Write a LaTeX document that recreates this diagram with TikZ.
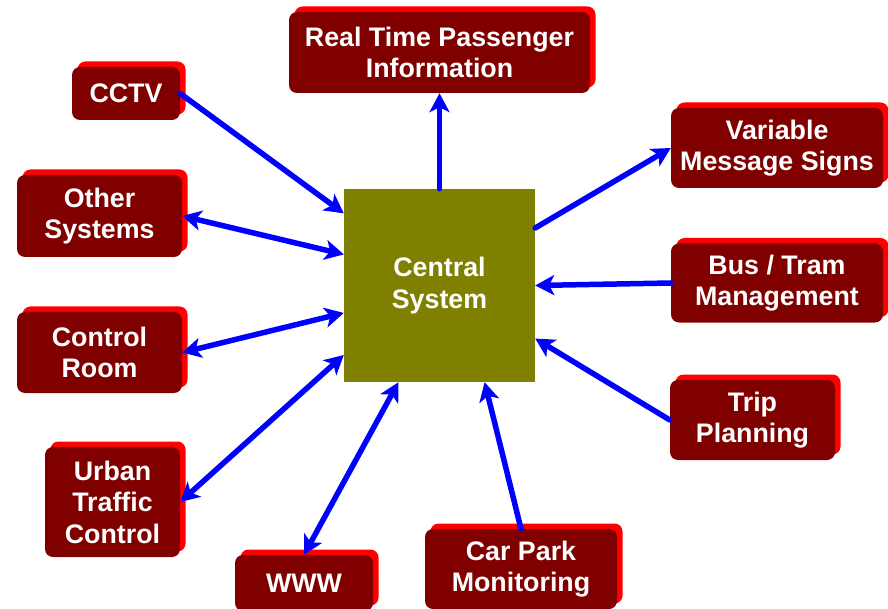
\documentclass[tikz,border=0pt]{standalone}
\usepackage{fontspec}
\setmainfont{Liberation Sans}
\usetikzlibrary{arrows.meta, shadows}
\definecolor{boxred}{HTML}{800000}
\definecolor{centralolive}{HTML}{808000}
\definecolor{linkblue}{HTML}{0000FF}

\begin{document}
\begin{tikzpicture}[x=1pt, y=-1pt, align=center,
    font=\fontsize{26.8}{31.5}\selectfont\bfseries,
    sysbox/.style={fill=boxred, text=white, rounded corners=8pt, inner sep=0pt,
        drop shadow={shadow xshift=5.5pt, shadow yshift=5.5pt, fill=red, opacity=1}},
    link/.style={draw=linkblue, line width=5.5pt, line cap=round,
        -{Stealth[length=19pt, width=20pt, inset=5pt]}},
    twoway/.style={draw=linkblue, line width=5.5pt, line cap=round,
        {Stealth[length=19pt, width=20pt, inset=5pt]}-{Stealth[length=19pt, width=20pt, inset=5pt]}}]
    \useasboundingbox (0,0) rectangle (888,609);

    % Draw the central system
    \node[fill=centralolive, text=white, minimum width=191pt, minimum height=193pt] (central) at (439.5,285.5) {Central \\ System};

    % Draw the surrounding systems
    \node[sysbox, minimum width=108pt, minimum height=53pt] (cctv) at (126,93.5) {CCTV};
    \node[sysbox, minimum width=301pt, minimum height=81pt] (rtpi) at (439.5,52.5) {Real Time Passenger \\ Information};
    \node[sysbox, minimum width=212pt, minimum height=80pt] (vms) at (777,148) {Variable \\ Message Signs};
    \node[sysbox, minimum width=165pt, minimum height=82pt] (other) at (99.5,216) {Other \\ Systems};
    \node[sysbox, minimum width=165pt, minimum height=81pt] (control) at (99.5,352.5) {Control \\ Room};
    \node[sysbox, minimum width=212pt, minimum height=79pt] (bus) at (777,283) {Bus / Tram \\ Management};
    \node[sysbox, minimum width=135pt, minimum height=110pt] (urban) at (112.5,502) {Urban \\ Traffic \\ Control};
    \node[sysbox, minimum width=165pt, minimum height=80pt] (trip) at (752.5,420) {Trip \\ Planning};
    \node[sysbox, minimum width=138pt, minimum height=56pt] (www) at (304,583) {WWW};
    \node[sysbox, minimum width=192pt, minimum height=80pt] (carpark) at (521,569) {Car Park \\ Monitoring};

    % Draw the one-way links
    \draw[link] (cctv.east) -- (central.143.6);
    \draw[link] (central.north) -- (rtpi.south);
    \draw[link] (central.31) -- (vms.west);
    \draw[link] (bus.west) -- (central.east);
    \draw[link] (trip.west) -- (central.331.5);
    \draw[link] (carpark.north) -- (central.295);

    % Draw the two-way links
    \draw[twoway] (other.east) -- (central.162.3);
    \draw[twoway] (control.east) -- (central.196);
    \draw[twoway] (urban.east) -- (central.216);
    \draw[twoway] (www.north) -- (central.247);
\end{tikzpicture}
\end{document}
